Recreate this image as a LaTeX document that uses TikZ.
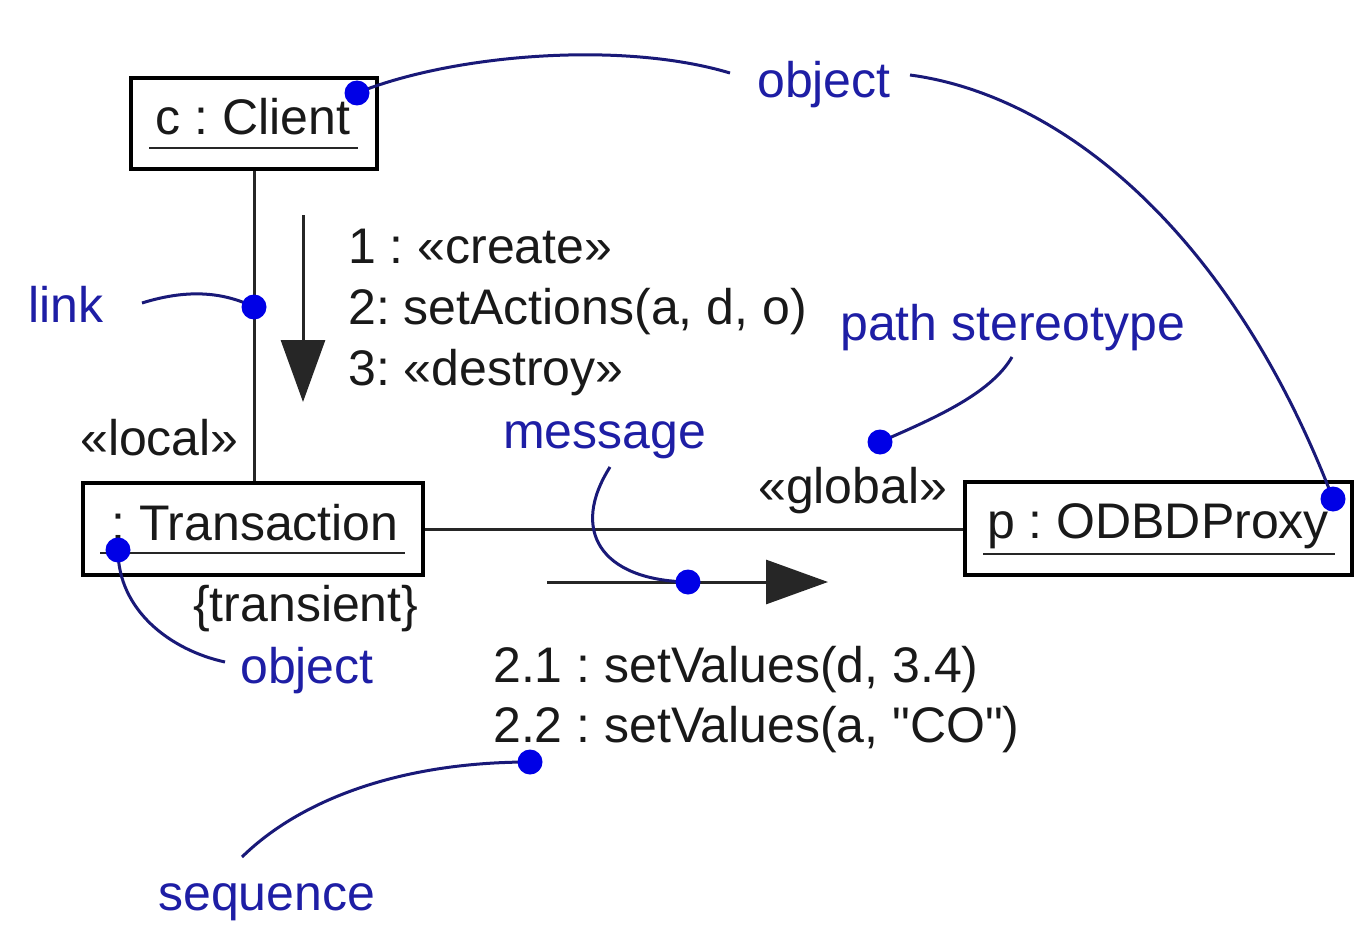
\documentclass[tikz,border=0pt]{standalone}
\usepackage{fontspec}
\setmainfont{Liberation Sans}
\usetikzlibrary{arrows.meta}
\frenchspacing
\definecolor{notetext}{RGB}{30,30,165}
\definecolor{notecurve}{RGB}{25,25,120}
\definecolor{notedot}{RGB}{0,0,230}
\newcommand\plaindq{\XeTeXglyph\XeTeXcharglyph"22\relax}
\tikzset{
  objbox/.style={draw=black, line width=3.5pt, fill=white, inner sep=0pt},
  txt/.style={font=\fontsize{50}{60}\selectfont\frenchspacing, inner sep=0pt, text=black!90},
  note/.style={font=\fontsize{50}{60}\selectfont\frenchspacing, inner sep=0pt, text=notetext},
  uline/.style={line width=2.5pt, black!85},
  linkline/.style={line width=3pt, black!85},
  msgarrow/.style={line width=3pt, black!85, -{Triangle[length=62pt,width=44pt]}},
  notecurvest/.style={line width=3pt, notecurve},
  notedotst/.style={circle, fill=notedot, minimum size=25pt, inner sep=0pt}
}
\begin{document}
\begin{tikzpicture}[x=1pt,y=-1pt]
\useasboundingbox[fill=white] (0,0) rectangle (1371,931);

% object boxes
\node[objbox, minimum width=246pt, minimum height=91pt] (client) at (254,123.5) {};
\node[txt, anchor=base] (clienttxt) at (253,135) {c : Client};
\draw[uline] (149,148) -- (358,148);

\node[objbox, minimum width=340pt, minimum height=92pt] (trans) at (253,529) {};
\node[txt, anchor=base] (transtxt) at (255,540) {: Transaction};
\draw[uline] (100,553) -- (405,553);

\node[objbox, minimum width=387pt, minimum height=93pt] (proxy) at (1158.5,528.5) {};
\node[txt, anchor=base] (proxytxt) at (1158,538) {p : ODBDProxy};
\draw[uline] (983,554) -- (1335,554);

% links
\draw[linkline] (client.south) -- (client.south |- trans.north);
\draw[linkline] (trans.east) -- (proxy.west |- trans.east);

% messages
\coordinate (m1s) at (303,215);
\coordinate (m1e) at (303,402);
\draw[msgarrow] (m1s) -- (m1e);
\coordinate (m2s) at (547,582);
\coordinate (m2e) at (828,582);
\draw[msgarrow] (m2s) -- (m2e);

% black labels
\node[txt, anchor=base west] (l1) at (348,263) {1 : «create»};
\node[txt, anchor=base west] (l2) at (348,324) {2: setActions(a, d, o)};
\node[txt, anchor=base west] (l3) at (348,385) {3: «destroy»};
\node[txt, anchor=base west] (local) at (80,455) {«local»};
\node[txt, anchor=base west] (global) at (758,503) {«global»};
\node[txt, anchor=base west] (transient) at (193,621) {\{transient\}};
\node[txt, anchor=base west] (s21) at (493,682) {2.1 : setValues(d, 3.4)};
\node[txt, anchor=base west] (s22) at (493,742) {2.2 : setValues(a, \plaindq CO\plaindq)};

% note labels
\node[note, anchor=base west] (nobj1) at (757,98) {object};
\node[note, anchor=base west] (nlink) at (28,322) {link};
\node[note, anchor=base west] (npath) at (840,340) {path stereotype};
\node[note, anchor=base west] (nmsg) at (503,448) {message};
\node[note, anchor=base west] (nobj2) at (240,683) {object};
\node[note, anchor=base west] (nseq) at (158,910) {sequence};

% note connector ends
\coordinate (c1a) at (730,73);
\coordinate (c1b) at (910,75);
\coordinate (c2) at (142,303);
\coordinate (c3) at (1012,357);
\coordinate (c4) at (610,467);
\coordinate (c5) at (225,662);
\coordinate (c6) at (242,857);

% note curves
\draw[notecurvest] (357,93) .. controls (450,55) and (620,40) .. (c1a);
\draw[notecurvest] (c1b) .. controls (1060,95) and (1230,230) .. (1333,499);
\draw[notecurvest] (c2) .. controls (190,288) and (225,293) .. (254,307);
\draw[notecurvest] (c3) .. controls (990,395) and (930,420) .. (880,442);
\draw[notecurvest] (c4) .. controls (570,530) and (600,580) .. (688,582);
\draw[notecurvest] (c5) .. controls (170,650) and (118,610) .. (118,550);
\draw[notecurvest] (c6) .. controls (300,800) and (400,762) .. (530,762);

% dots
\node[notedotst] (d1) at (357,93) {};
\node[notedotst] (d2) at (1333,499) {};
\node[notedotst] (d3) at (254,307) {};
\node[notedotst] (d4) at (880,442) {};
\node[notedotst] (d5) at (688,582) {};
\node[notedotst] (d6) at (118,550) {};
\node[notedotst] (d7) at (530,762) {};
\end{tikzpicture}
\end{document}
